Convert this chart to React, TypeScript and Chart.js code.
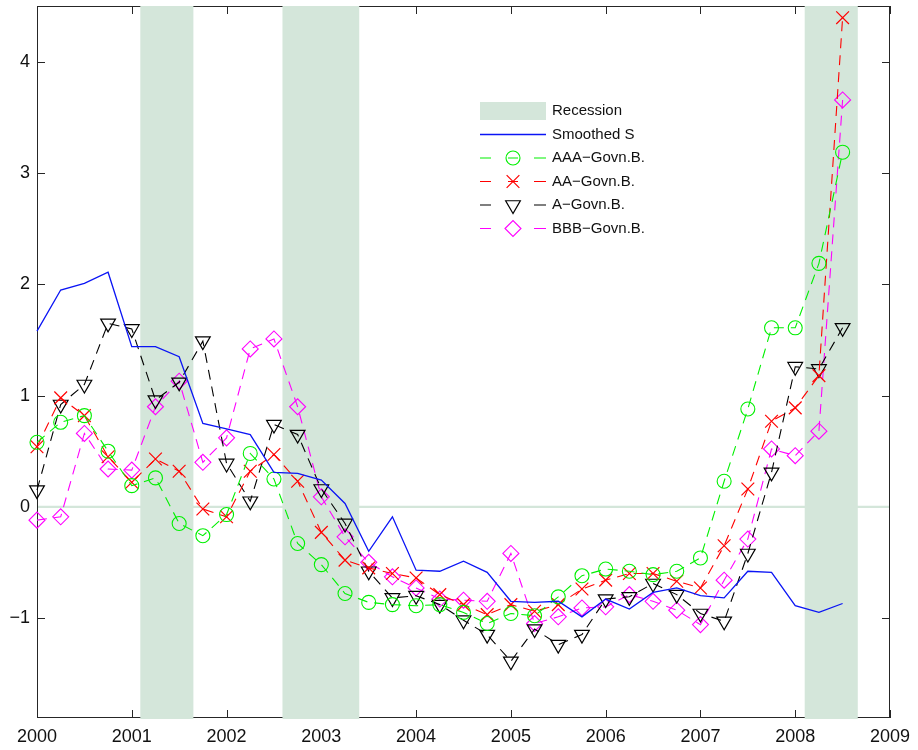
import { useEffect, useRef } from "react";
import { Chart, registerables } from "chart.js";
import { drawPoint } from "chart.js/helpers";

Chart.register(...registerables);

const quarters = [
  2000.0, 2000.25, 2000.5, 2000.75, 2001.0, 2001.25, 2001.5, 2001.75,
  2002.0, 2002.25, 2002.5, 2002.75, 2003.0, 2003.25, 2003.5, 2003.75,
  2004.0, 2004.25, 2004.5, 2004.75, 2005.0, 2005.25, 2005.5, 2005.75,
  2006.0, 2006.25, 2006.5, 2006.75, 2007.0, 2007.25, 2007.5, 2007.75,
  2008.0, 2008.25, 2008.5,
];

const smoothedS = [
  1.58, 1.95, 2.01, 2.11, 1.44, 1.44, 1.35, 0.75,
  0.7, 0.65, 0.31, 0.3, 0.24, 0.03, -0.4, -0.09,
  -0.57, -0.58, -0.49, -0.59, -0.85, -0.86, -0.85, -0.99,
  -0.83, -0.92, -0.77, -0.73, -0.8, -0.82, -0.58, -0.59,
  -0.89, -0.95, -0.87,
];

const aaaGovn = [
  0.58, 0.76, 0.82, 0.5, 0.19, 0.26, -0.15, -0.26,
  -0.07, 0.48, 0.25, -0.33, -0.52, -0.78, -0.86, -0.88,
  -0.89, -0.88, -0.95, -1.05, -0.96, -0.98, -0.81, -0.62,
  -0.56, -0.58, -0.61, -0.58, -0.46, 0.23, 0.88, 1.61,
  1.61, 2.19, 3.19,
];

const aaGovn = [
  0.54, 0.98, 0.82, 0.45, 0.22, 0.43, 0.32, -0.02,
  -0.09, 0.32, 0.47, 0.23, -0.23, -0.48, -0.55, -0.6,
  -0.64, -0.79, -0.88, -0.97, -0.88, -0.94, -0.88, -0.74,
  -0.66, -0.6, -0.6, -0.67, -0.73, -0.35, 0.16, 0.77,
  0.89, 1.18, 4.4,
];

const aGovn = [
  0.15, 0.92, 1.1, 1.65, 1.6, 0.96, 1.12, 1.49,
  0.39, 0.05, 0.74, 0.65, 0.16, -0.15, -0.58, -0.82,
  -0.8, -0.88, -1.02, -1.15, -1.39, -1.1, -1.24, -1.15,
  -0.83, -0.81, -0.69, -0.79, -0.96, -1.03, -0.42, 0.31,
  1.26, 1.24, 1.61,
];

const bbbGovn = [
  -0.12, -0.09, 0.66, 0.34, 0.33, 0.9, 1.13, 0.4,
  0.62, 1.42, 1.51, 0.9, 0.09, -0.27, -0.5, -0.63,
  -0.73, -0.83, -0.84, -0.85, -0.42, -1.05, -0.99, -0.91,
  -0.9, -0.79, -0.85, -0.93, -1.06, -0.66, -0.29, 0.52,
  0.46, 0.68, 3.66,
];

const recessionStarts = [2001.09, 2002.59, 2008.1];
const recessionEnds = [2001.65, 2003.4, 2008.66];
const recessionLabel = "Recession";

const xTicks = [2000, 2001, 2002, 2003, 2004, 2005, 2006, 2007, 2008, 2009];
const yTicks = [-1, 0, 1, 2, 3, 4];

const FONT = "'Liberation Sans', Arial, Helvetica, sans-serif";
const BAND = "#d4e6da";
const FRAME = "#262626";

function toPoints(vals: number[]) {
  return vals.map((v, i) => ({ x: quarters[i], y: v }));
}

const backgroundPlugin = {
  id: "bgFrame",
  beforeDatasetsDraw(chart: any) {
    const { ctx, chartArea: a, scales } = chart;
    const xs = scales.x;
    const ys = scales.y;
    ctx.save();
    ctx.strokeStyle = FRAME;
    ctx.lineWidth = 1;
    ctx.strokeRect(Math.round(a.left) + 0.5, Math.round(a.top) + 0.5, Math.round(a.right - a.left) - 1, Math.round(a.bottom - a.top) - 1);
    const tl = 8;
    ctx.beginPath();
    xTicks.forEach((v) => {
      const px = Math.round(xs.getPixelForValue(v)) + 0.5;
      ctx.moveTo(px, a.bottom);
      ctx.lineTo(px, a.bottom - tl);
      ctx.moveTo(px, a.top);
      ctx.lineTo(px, a.top + tl);
    });
    yTicks.forEach((v) => {
      const py = Math.round(ys.getPixelForValue(v)) + 0.5;
      ctx.moveTo(a.left, py);
      ctx.lineTo(a.left + tl, py);
      ctx.moveTo(a.right, py);
      ctx.lineTo(a.right - tl, py);
    });
    ctx.stroke();
    // zero line
    const y0 = ys.getPixelForValue(0);
    ctx.strokeStyle = BAND;
    ctx.lineWidth = 2.2;
    ctx.beginPath();
    ctx.moveTo(a.left + 1, y0);
    ctx.lineTo(a.right - 1, y0);
    ctx.stroke();
    // recession bands
    ctx.fillStyle = BAND;
    recessionStarts.forEach((s, i) => {
      const x1 = xs.getPixelForValue(s);
      const x2 = xs.getPixelForValue(recessionEnds[i]);
      ctx.fillRect(x1, a.top, x2 - x1, a.bottom - a.top + 1);
    });
    ctx.restore();
  },
};

const legendPlugin = {
  id: "customLegend",
  afterDatasetsDraw(chart: any) {
    const { ctx } = chart;
    const x0 = 480;
    const x1 = 546;
    const tx = 552;
    const rows = [111, 134.5, 158, 181.5, 205, 228.5];
    ctx.save();
    ctx.font = `15px ${FONT}`;
    ctx.textBaseline = "middle";
    ctx.textAlign = "left";
    // recession patch
    ctx.fillStyle = BAND;
    ctx.fillRect(x0, rows[0] - 9, x1 - x0, 18);
    ctx.fillStyle = "#111";
    ctx.fillText(recessionLabel, tx, rows[0]);
    chart.data.datasets.forEach((ds: any, i: number) => {
      const y = rows[i + 1];
      ctx.strokeStyle = ds.borderColor;
      ctx.lineWidth = ds.borderWidth;
      ctx.setLineDash([]);
      ctx.beginPath();
      if (ds.pointRadius > 0) {
        ctx.moveTo(x0, y);
        ctx.lineTo(x0 + 11, y);
        ctx.moveTo(x1 - 12, y);
        ctx.lineTo(x1, y);
        if (ds.pointStyle === "circle" || ds.pointStyle === "crossRot") {
          ctx.moveTo(508, y);
          ctx.lineTo(518, y);
        }
      } else {
        ctx.moveTo(x0, y);
        ctx.lineTo(x1, y);
      }
      ctx.stroke();
      if (ds.pointRadius > 0) {
        ctx.fillStyle = "rgba(0,0,0,0)";
        ctx.strokeStyle = ds.pointBorderColor;
        ctx.lineWidth = ds.pointBorderWidth;
        drawPoint(ctx, {
          pointStyle: ds.pointStyle,
          radius: ds.pointRadius,
          rotation: ds.pointRotation || 0,
          borderWidth: ds.pointBorderWidth,
        } as any, 513, y);
      }
      ctx.fillStyle = "#111";
      ctx.fillText(ds.label, tx, y);
    });
    ctx.restore();
  },
};

export default function App() {
  const ref = useRef<HTMLCanvasElement | null>(null);
  useEffect(() => {
    if (!ref.current) return;
    const dashed = [10, 7];
    const chart = new Chart(ref.current, {
      type: "line",
      data: {
        datasets: [
          {
            label: "Smoothed S",
            data: toPoints(smoothedS),
            borderColor: "#0a14f5",
            borderWidth: 1.3,
            pointRadius: 0,
            tension: 0,
            clip: false,
          },
          {
            label: "AAA\u2212Govn.B.",
            data: toPoints(aaaGovn),
            borderColor: "#00f000",
            borderWidth: 1.1,
            borderDash: dashed,
            pointStyle: "circle",
            pointRadius: 7,
            pointBorderWidth: 1.1,
            pointBorderColor: "#00f000",
            pointBackgroundColor: "rgba(0,0,0,0)",
            tension: 0,
            clip: false,
          },
          {
            label: "AA\u2212Govn.B.",
            data: toPoints(aaGovn),
            borderColor: "#ff0000",
            borderWidth: 1.1,
            borderDash: dashed,
            pointStyle: "crossRot",
            pointRadius: 9,
            pointBorderWidth: 1.2,
            pointBorderColor: "#ff0000",
            pointBackgroundColor: "rgba(0,0,0,0)",
            tension: 0,
            clip: false,
          },
          {
            label: "A\u2212Govn.B.",
            data: toPoints(aGovn),
            borderColor: "#000000",
            borderWidth: 1.1,
            borderDash: dashed,
            pointStyle: "triangle",
            pointRotation: 180,
            pointRadius: 8.5,
            pointBorderWidth: 1.2,
            pointBorderColor: "#000000",
            pointBackgroundColor: "rgba(0,0,0,0)",
            tension: 0,
            clip: false,
          },
          {
            label: "BBB\u2212Govn.B.",
            data: toPoints(bbbGovn),
            borderColor: "#ff00ff",
            borderWidth: 1.1,
            borderDash: dashed,
            pointStyle: "rectRot",
            pointRadius: 8,
            pointBorderWidth: 1.1,
            pointBorderColor: "#ff00ff",
            pointBackgroundColor: "rgba(0,0,0,0)",
            tension: 0,
            clip: false,
          },
        ] as any,
      },
      options: {
        responsive: false,
        animation: false,
        events: [],
        layout: { autoPadding: false, padding: { left: 0, top: 6, right: 28, bottom: 0 } },
        plugins: {
          legend: { display: false },
          tooltip: { enabled: false },
        },
        scales: {
          x: {
            type: "linear",
            min: 2000,
            max: 2009,
            afterFit: (s: any) => {
              s.height = 32;
              s.paddingLeft = 0;
              s.paddingRight = 0;
            },
            afterBuildTicks: (s: any) => {
              s.ticks = xTicks.map((v) => ({ value: v }));
            },
            grid: { display: false, drawTicks: false },
            border: { display: false },
            ticks: {
              padding: 8,
              maxRotation: 0,
              autoSkip: false,
              color: "#111",
              font: { family: FONT, size: 18 },
              callback: (v: any) => String(v),
            },
          },
          y: {
            type: "linear",
            min: -1.9,
            max: 4.505,
            afterFit: (s: any) => {
              s.width = 37;
              s.paddingTop = 0;
              s.paddingBottom = 0;
            },
            afterBuildTicks: (s: any) => {
              s.ticks = yTicks.map((v) => ({ value: v }));
            },
            grid: { display: false, drawTicks: false },
            border: { display: false },
            ticks: {
              padding: 7,
              autoSkip: false,
              color: "#111",
              font: { family: FONT, size: 18 },
              callback: (v: any) => (v < 0 ? "\u2212" + Math.abs(v) : String(v)),
            },
          },
        },
      },
      plugins: [backgroundPlugin, legendPlugin],
    });
    return () => chart.destroy();
  }, []);
  return (
    <div style={{ position: "fixed", left: 0, top: 0, width: 918, height: 750, background: "#fff" }}>
      <canvas ref={ref} width={918} height={750} style={{ display: "block" }} />
    </div>
  );
}
